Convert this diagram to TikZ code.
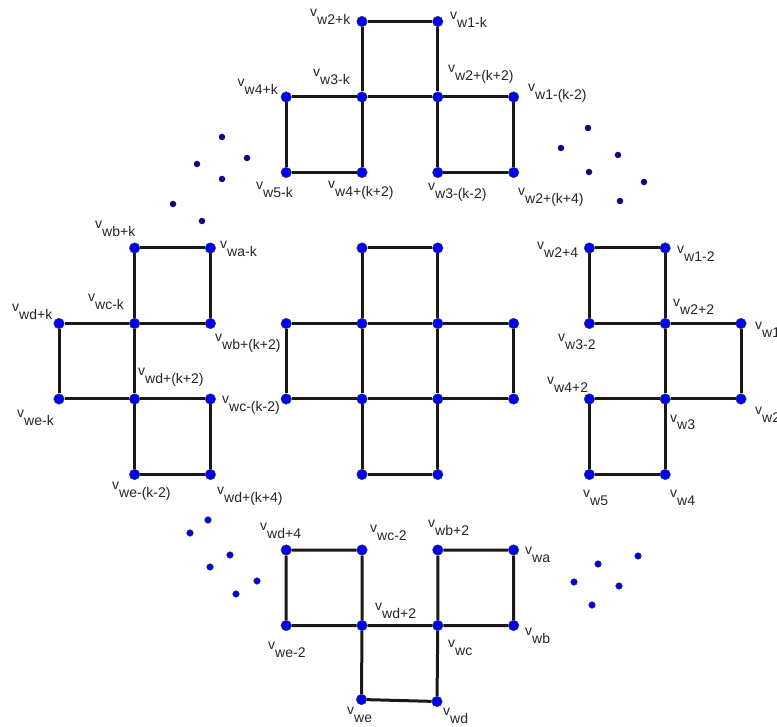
\documentclass[tikz,border=0pt]{standalone}
\usepackage{fontspec}
\newfontfamily\lfont{Liberation Sans}
\newcommand{\vl}[1]{\raisebox{8pt}{v}#1}
\definecolor{vblue}{RGB}{0,0,250}
\definecolor{dnavy}{RGB}{10,10,130}
\tikzset{
  vtx/.style={circle, fill=vblue, draw=black!75, line width=0.5pt, inner sep=0pt, minimum size=10.5pt},
  dotnavy/.style={circle, fill=dnavy, inner sep=0pt, minimum size=6.5pt},
  dotblue/.style={circle, fill=vblue, draw=black!80, line width=0.6pt, inner sep=0pt, minimum size=6.5pt},
  edge/.style={line width=3pt, black!90},
  lbl/.style={inner sep=0pt, font=\lfont\fontsize{14}{16}\selectfont, text=black!85, anchor=base west},
  lble/.style={lbl, anchor=base east},
}
\begin{document}
\begin{tikzpicture}[x=1pt,y=-1pt]
\clip (0,0) rectangle (777,727);
\fill[white] (0,0) rectangle (777,727);
% ---------- top cluster
\node[vtx] (t1) at (362,21.5) {};
\node[vtx] (t2) at (437.8,21.5) {};
\node[vtx] (t3) at (286.2,97) {};
\node[vtx] (t4) at (362,97) {};
\node[vtx] (t5) at (437.8,97) {};
\node[vtx] (t6) at (513.6,97) {};
\node[vtx] (t7) at (286.2,172.5) {};
\node[vtx] (t8) at (362,172.5) {};
\node[vtx] (t9) at (437.8,172.5) {};
\node[vtx] (t10) at (513.6,172.5) {};
\draw[edge] (t1)--(t2) (t2)--(t5) (t1)--(t4) (t3)--(t4) (t4)--(t5) (t5)--(t6)
  (t3)--(t7) (t7)--(t8) (t8)--(t4) (t5)--(t9) (t9)--(t10) (t10)--(t6);
% ---------- middle cross
\node[vtx] (m1) at (362,248) {};
\node[vtx] (m2) at (437.8,248) {};
\node[vtx] (m3) at (286.2,323.5) {};
\node[vtx] (m4) at (362,323.5) {};
\node[vtx] (m5) at (437.8,323.5) {};
\node[vtx] (m6) at (513.6,323.5) {};
\node[vtx] (m7) at (286.2,399) {};
\node[vtx] (m8) at (362,399) {};
\node[vtx] (m9) at (437.8,399) {};
\node[vtx] (m10) at (513.6,399) {};
\node[vtx] (m11) at (362,474.5) {};
\node[vtx] (m12) at (437.8,474.5) {};
\draw[edge] (m1)--(m2) (m1)--(m4) (m2)--(m5) (m3)--(m4) (m4)--(m5) (m5)--(m6)
  (m3)--(m7) (m6)--(m10) (m7)--(m8) (m8)--(m9) (m9)--(m10) (m4)--(m8) (m5)--(m9)
  (m8)--(m11) (m9)--(m12) (m11)--(m12);
% ---------- left cluster
\node[vtx] (l1) at (134.6,248) {};
\node[vtx] (l2) at (210.4,248) {};
\node[vtx] (l3) at (59,323.5) {};
\node[vtx] (l4) at (134.6,323.5) {};
\node[vtx] (l5) at (210.4,323.5) {};
\node[vtx] (l6) at (59,399) {};
\node[vtx] (l7) at (134.6,399) {};
\node[vtx] (l8) at (210.4,399) {};
\node[vtx] (l9) at (134.6,474.5) {};
\node[vtx] (l10) at (210.4,474.5) {};
\draw[edge] (l1)--(l2) (l2)--(l5) (l1)--(l4) (l3)--(l4) (l4)--(l5) (l3)--(l6)
  (l6)--(l7) (l7)--(l8) (l4)--(l7) (l7)--(l9) (l9)--(l10) (l8)--(l10);
% ---------- right cluster
\node[vtx] (r1) at (589.4,248) {};
\node[vtx] (r2) at (665.2,248) {};
\node[vtx] (r3) at (589.4,323.5) {};
\node[vtx] (r4) at (665.2,323.5) {};
\node[vtx] (r5) at (741,323.5) {};
\node[vtx] (r6) at (589.4,399) {};
\node[vtx] (r7) at (665.2,399) {};
\node[vtx] (r8) at (741,399) {};
\node[vtx] (r9) at (589.4,474.5) {};
\node[vtx] (r10) at (665.2,474.5) {};
\draw[edge] (r1)--(r2) (r1)--(r3) (r2)--(r4) (r3)--(r4) (r4)--(r5) (r5)--(r8)
  (r4)--(r7) (r6)--(r7) (r7)--(r8) (r6)--(r9) (r9)--(r10) (r7)--(r10);
% ---------- bottom cluster
\node[vtx] (b1) at (286.2,550) {};
\node[vtx] (b2) at (362,550) {};
\node[vtx] (b3) at (437.8,550) {};
\node[vtx] (b4) at (513.6,550) {};
\node[vtx] (b5) at (286.2,625.5) {};
\node[vtx] (b6) at (362,625.5) {};
\node[vtx] (b7) at (437.8,625.5) {};
\node[vtx] (b8) at (513.6,625.5) {};
\node[vtx] (b9) at (361.5,699.5) {};
\node[vtx] (b10) at (437,701.5) {};
\draw[edge] (b1)--(b2) (b1)--(b5) (b2)--(b6) (b3)--(b4) (b3)--(b7) (b4)--(b8)
  (b5)--(b6) (b6)--(b7) (b7)--(b8) (b6)--(b9) (b7)--(b10) (b9)--(b10);
% ---------- dots
\node[dotnavy] (d1) at (222,137) {};
\node[dotnavy] (d2) at (197,164) {};
\node[dotnavy] (d3) at (247,158) {};
\node[dotnavy] (d4) at (222,179) {};
\node[dotnavy] (d5) at (173,204) {};
\node[dotnavy] (d6) at (202,221) {};
\node[dotnavy] (d7) at (588,128) {};
\node[dotnavy] (d8) at (561,148) {};
\node[dotnavy] (d9) at (618,155) {};
\node[dotnavy] (d10) at (589,172) {};
\node[dotnavy] (d11) at (644,182) {};
\node[dotnavy] (d12) at (620,201) {};
\node[dotblue] (d13) at (208,520) {};
\node[dotblue] (d14) at (190,533) {};
\node[dotblue] (d15) at (230,555) {};
\node[dotblue] (d16) at (210,567) {};
\node[dotblue] (d17) at (257,581) {};
\node[dotblue] (d18) at (236,594) {};
\node[dotblue] (d19) at (638,556) {};
\node[dotblue] (d20) at (598,564) {};
\node[dotblue] (d21) at (574,582) {};
\node[dotblue] (d22) at (619,586) {};
\node[dotblue] (d23) at (592,605) {};
% ---------- labels top
\node[lbl] (lt1) at (310,25) {\vl{w2+k}};
\node[lbl] (lt2) at (450,28) {\vl{w1-k}};
\node[lble] (lt3) at (278,95) {\vl{w4+k}};
\node[lbl] (lt4) at (313,85) {\vl{w3-k}};
\node[lbl] (lt5) at (448,81) {\vl{w2+(k+2)}};
\node[lbl] (lt6) at (528,100) {\vl{w1-(k-2)}};
\node[lble] (lt7) at (293,198) {\vl{w5-k}};
\node[lbl] (lt8) at (328,197) {\vl{w4+(k+2)}};
\node[lbl] (lt9) at (428,199) {\vl{w3-(k-2)}};
\node[lbl] (lt10) at (518,204) {\vl{w2+(k+4)}};
% ---------- labels left
\node[lbl] (ll1) at (95,237) {\vl{wb+k}};
\node[lbl] (ll2) at (220,257) {\vl{wa-k}};
\node[lbl] (ll3) at (12,320) {\vl{wd+k}};
\node[lbl] (ll4) at (88,310) {\vl{wc-k}};
\node[lbl] (ll5) at (215,350) {\vl{wb+(k+2)}};
\node[lbl] (ll6) at (17,425) {\vl{we-k}};
\node[lbl] (ll7) at (138,384) {\vl{wd+(k+2)}};
\node[lbl] (ll8) at (222,412) {\vl{wc-(k-2)}};
\node[lbl] (ll9) at (112,497) {\vl{we-(k-2)}};
\node[lbl] (ll10) at (217,502) {\vl{wd+(k+4)}};
% ---------- labels right
\node[lbl] (lr1) at (537,258) {\vl{w2+4}};
\node[lbl] (lr2) at (677,262) {\vl{w1-2}};
\node[lbl] (lr3) at (558,350) {\vl{w3-2}};
\node[lbl] (lr4) at (673,315) {\vl{w2+2}};
\node[lbl] (lr5) at (755,338) {\vl{w1}};
\node[lbl] (lr6) at (547,392) {\vl{w4+2}};
\node[lbl] (lr7) at (670,430) {\vl{w3}};
\node[lbl] (lr8) at (755,422) {\vl{w2}};
\node[lbl] (lr9) at (583,505) {\vl{w5}};
\node[lbl] (lr10) at (670,505) {\vl{w4}};
% ---------- labels bottom
\node[lbl] (lb1) at (260,538) {\vl{wd+4}};
\node[lbl] (lb2) at (370,540) {\vl{wc-2}};
\node[lbl] (lb3) at (428,535) {\vl{wb+2}};
\node[lbl] (lb4) at (525,562) {\vl{wa}};
\node[lbl] (lb5) at (268,657) {\vl{we-2}};
\node[lbl] (lb6) at (375,618) {\vl{wd+2}};
\node[lbl] (lb7) at (448,655) {\vl{wc}};
\node[lbl] (lb8) at (525,643) {\vl{wb}};
\node[lbl] (lb9) at (347,722) {\vl{we}};
\node[lbl] (lb10) at (443,723) {\vl{wd}};
\end{tikzpicture}
\end{document}
